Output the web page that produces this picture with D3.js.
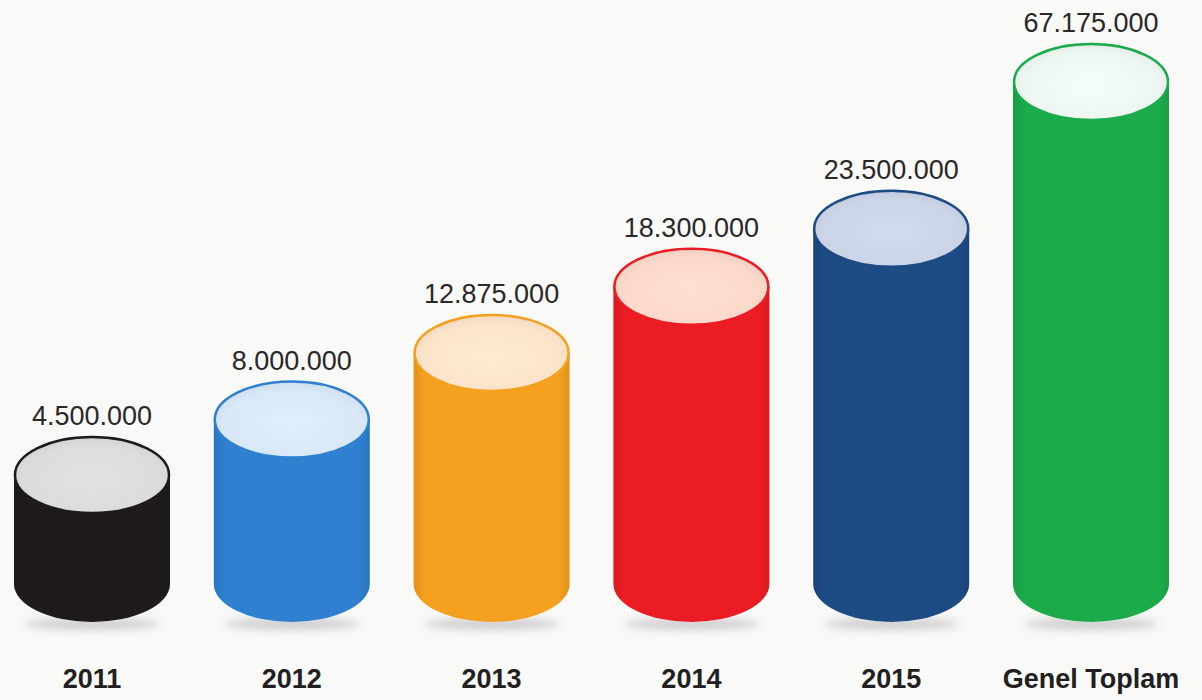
<!DOCTYPE html>
<html>
<head>
<meta charset="utf-8">
<script src="https://cdn.jsdelivr.net/npm/d3@7"></script>
<style>
  html, body { margin: 0; padding: 0; background: #f9f9f8; }
  svg { display: block; }
</style>
</head>
<body>
<svg id="chart" width="1202" height="700"></svg>
<script>
// chart data
var categories = ['2011', '2012', '2013', '2014', '2015', 'Genel Toplam'];
var values = [4500000, 8000000, 12875000, 18300000, 23500000, 67175000];
var bodyColors = ['#1f1b1b', '#2f80d0', '#f5a01f', '#ec1c24', '#1d4b84', '#1bab4b'];
var topColors = ['#dadcde', '#d8e8f6', '#fbe4ca', '#fad9cb', '#ccd5e7', '#eef6f1'];

var width = 1202, height = 700;
var cylW = 156, ry = 38;
var baseY = 584;   // centre of the bottom ellipse

var svg = d3.select('#chart');

var x = d3.scalePoint()
  .domain(categories)
  .range([92, 1091]);

// heights are not linear in the original; a power scale, clamped, follows it
var h = d3.scalePow()
  .exponent(0.715)
  .domain([0, 38100000])
  .range([0, 502])
  .clamp(true);

var fmt = d3.formatLocale({decimal: ',', thousands: '.', grouping: [3], currency: ['', '']}).format(',');

var defs = svg.append('defs');

defs.append('filter')
  .attr('id', 'blur')
  .attr('x', '-30%').attr('y', '-100%').attr('width', '160%').attr('height', '300%')
  .append('feGaussianBlur')
  .attr('stdDeviation', 4);

categories.forEach(function (c, i) {
  var col = d3.color(bodyColors[i]);
  var g = defs.append('linearGradient')
    .attr('id', 'body' + i)
    .attr('x1', '0%').attr('x2', '100%').attr('y1', '0%').attr('y2', '0%');
  g.append('stop').attr('offset', '0%').attr('stop-color', col.darker(0.25));
  g.append('stop').attr('offset', '7%').attr('stop-color', col);
  g.append('stop').attr('offset', '93%').attr('stop-color', col);
  g.append('stop').attr('offset', '100%').attr('stop-color', col.darker(0.25));

  var t = defs.append('radialGradient')
    .attr('id', 'top' + i)
    .attr('cx', '50%').attr('cy', '55%').attr('r', '55%');
  t.append('stop').attr('offset', '0%').attr('stop-color', d3.color(topColors[i]).brighter(0.08));
  t.append('stop').attr('offset', '80%').attr('stop-color', topColors[i]);
  t.append('stop').attr('offset', '100%').attr('stop-color', d3.color(topColors[i]).darker(0.12));
});

var data = categories.map(function (c, i) {
  return {cat: c, value: values[i], i: i};
});

var cyl = svg.selectAll('g.cyl')
  .data(data)
  .enter().append('g')
  .attr('class', 'cyl');

// soft shadow under each cylinder
cyl.append('ellipse')
  .attr('cx', function (d) { return x(d.cat); })
  .attr('cy', baseY + ry + 2)
  .attr('rx', cylW / 2 - 10)
  .attr('ry', 6)
  .attr('fill', '#a5a5aa')
  .attr('opacity', 0.5)
  .attr('filter', 'url(#blur)');

cyl.append('path')
  .attr('d', function (d) {
    var cx = x(d.cat), l = cx - cylW / 2, r = cx + cylW / 2;
    var top = baseY - h(d.value);
    return 'M' + l + ',' + top + 'L' + l + ',' + baseY +
      'A' + (cylW / 2) + ',' + ry + ' 0 0 0 ' + r + ',' + baseY +
      'L' + r + ',' + top + 'Z';
  })
  .attr('fill', function (d) { return 'url(#body' + d.i + ')'; });

cyl.append('ellipse')
  .attr('cx', function (d) { return x(d.cat); })
  .attr('cy', function (d) { return baseY - h(d.value); })
  .attr('rx', cylW / 2 - 1)
  .attr('ry', ry)
  .attr('fill', function (d) { return 'url(#top' + d.i + ')'; })
  .attr('stroke', function (d) { return bodyColors[d.i]; })
  .attr('stroke-width', 2.5);

// value labels
cyl.append('text')
  .attr('x', function (d) { return x(d.cat); })
  .attr('y', function (d) { return baseY - h(d.value) - ry - 12; })
  .attr('text-anchor', 'middle')
  .attr('font-family', 'Liberation Sans, Arial, sans-serif')
  .attr('font-size', 27)
  .attr('fill', '#2b2728')
  .text(function (d) { return fmt(d.value); });

// category labels
cyl.append('text')
  .attr('x', function (d) { return x(d.cat); })
  .attr('y', 688)
  .attr('text-anchor', 'middle')
  .attr('font-family', 'Liberation Sans, Arial, sans-serif')
  .attr('font-weight', 'bold')
  .attr('font-size', 27)
  .attr('fill', '#231f20')
  .text(function (d) { return d.cat; });
</script>
</body>
</html>
